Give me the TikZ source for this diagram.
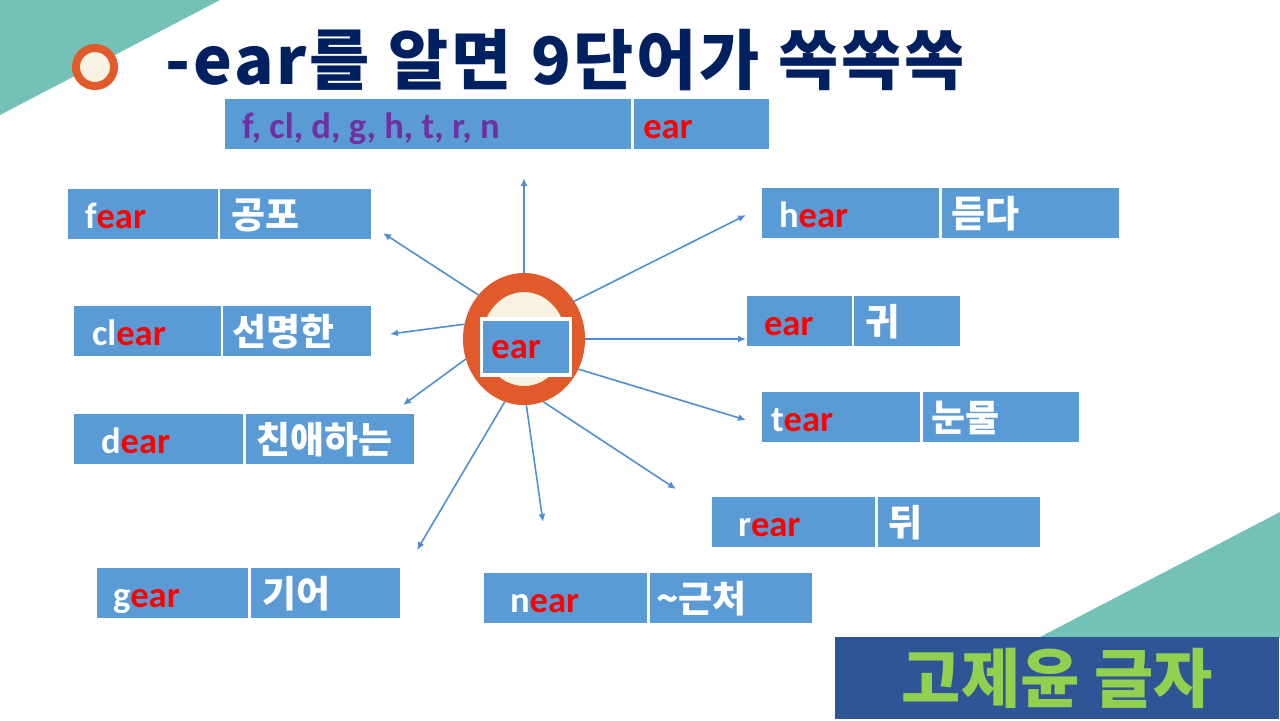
\documentclass[tikz,border=0pt]{standalone}
\usepackage{fontspec}
\setmainfont{Carlito}
\newfontfamily\kr{Noto Sans CJK KR}
\newfontfamily\krwide{Noto Sans CJK KR}[WordSpace=1.1, LetterSpace=4]
\usetikzlibrary{arrows.meta,positioning,shapes.geometric}
\definecolor{boxblue}{HTML}{5B9BD5}
\definecolor{earred}{HTML}{FF0000}
\definecolor{ltrpurple}{HTML}{7030A0}
\definecolor{titlenavy}{HTML}{002060}
\definecolor{slideteal}{HTML}{74C1B8}
\definecolor{ringorange}{HTML}{E05A2B}
\definecolor{ringcream}{HTML}{F8F2E3}
\definecolor{creditblue}{HTML}{2F5597}
\definecolor{creditgreen}{HTML}{92D050}
\definecolor{spokeblue}{HTML}{4F8FCF}
\newcommand{\rd}[1]{\textcolor{earred}{#1}}
\tikzset{
  cell/.style={draw=white, line width=0.8pt, fill=boxblue, text=white, align=left,
    inner ysep=0pt, outer sep=0pt, minimum height=0.52cm, text height=0.40cm, text depth=0.12cm},
  engcell/.style={cell, font=\fontsize{10.4}{12}\selectfont\bfseries},
  korcell/.style={cell, font=\fontsize{10.5}{12}\kr\bfseries},
  spoke/.style={draw=spokeblue, line width=0.45pt, -{Latex[length=0.8mm,width=0.7mm]}},
  ring/.style={ellipse, draw=ringorange, line width=0.19cm, fill=ringcream,
    minimum width=1.03cm, minimum height=1.13cm, inner sep=0pt},
  bigkr/.style={inner sep=0pt}
}
\begin{document}
\begin{tikzpicture}[x=0.01cm, y=-0.01cm]
  \useasboundingbox (0,0) rectangle (1280,720);
  \fill[slideteal] (0,0) -- (220,0) -- (0,115) -- cycle;
  \fill[slideteal] (1038,638) -- (1280,512) -- (1280,638) -- cycle;

  \node[circle, draw=ringorange, line width=0.08cm, fill=ringcream, minimum size=0.38cm,
    inner sep=0pt] (bullet) at (95,67) {};
  \node[bigkr, anchor=base west, text=titlenavy, font=\fontsize{18.6}{22}\krwide\bfseries]
    (title) at (165,84) {-ear를 알면 9단어가 쏙쏙쏙};

  \node[engcell, anchor=north west, inner xsep=0.18cm, text width=3.72cm, text=ltrpurple]
    (lettersE) at (224,98) {\spaceskip=0.226em\relax f, cl, d, g, h, t, r, n};
  \node[engcell, right=0pt of lettersE, inner xsep=0.11cm, text width=1.16cm] (lettersK) {\rd{ear}};

  \node[ring] (hub) at (524,339) {};
  \node[engcell, line width=1pt, inner xsep=0.10cm, text width=0.69cm, minimum height=0.56cm,
    text height=0.39cm, text depth=0.17cm] (hubbox) at (526,347) {\rd{ear}};

  \node[engcell, anchor=north west, inner xsep=0.18cm, text width=1.16cm] (fearE) at (67,188) {f\rd{ear}};
  \node[korcell, right=0pt of fearE, inner xsep=0.12cm, text width=1.29cm] (fearK) {공포};
  \node[engcell, anchor=north west, inner xsep=0.19cm, text width=1.11cm] (clearE) at (73,305) {cl\rd{ear}};
  \node[korcell, right=0pt of clearE, inner xsep=0.10cm, text width=1.30cm] (clearK) {선명한};
  \node[engcell, anchor=north west, inner xsep=0.28cm, text width=1.15cm] (dearE) at (73,413) {d\rd{ear}};
  \node[korcell, right=0pt of dearE, inner xsep=0.12cm, text width=1.47cm] (dearK) {친애하는};
  \node[engcell, anchor=north west, inner xsep=0.17cm, text width=1.19cm] (gearE) at (96,567) {g\rd{ear}};
  \node[korcell, right=0pt of gearE, inner xsep=0.13cm, text width=1.26cm] (gearK) {기어};
  \node[engcell, anchor=north west, inner xsep=0.27cm, text width=1.11cm] (nearE) at (483,572) {n\rd{ear}};
  \node[korcell, right=0pt of nearE, inner xsep=0.08cm, text width=1.49cm] (nearK) {\string~근처};
  \node[engcell, anchor=north west, inner xsep=0.27cm, text width=1.11cm] (rearE) at (711,496) {r\rd{ear}};
  \node[korcell, right=0pt of rearE, inner xsep=0.12cm, text width=1.41cm] (rearK) {뒤};
  \node[engcell, anchor=north west, inner xsep=0.10cm, text width=1.40cm] (tearE) at (761,391) {t\rd{ear}};
  \node[korcell, right=0pt of tearE, inner xsep=0.10cm, text width=1.39cm] (tearK) {눈물};
  \node[engcell, anchor=north west, inner xsep=0.18cm, text width=0.71cm] (earE) at (746,295) {\rd{ear}};
  \node[korcell, right=0pt of earE, inner xsep=0.12cm, text width=0.84cm] (earK) {귀};
  \node[engcell, anchor=north west, inner xsep=0.18cm, text width=1.43cm] (hearE) at (761,187) {h\rd{ear}};
  \node[korcell, right=0pt of hearE, inner xsep=0.11cm, text width=1.58cm] (hearK) {듣다};

  \coordinate (upEnd) at (524,178);
  \coordinate (fearEnd) at (383,233);
  \coordinate (clearEnd) at (390,334);
  \coordinate (dearEnd) at (403,405);
  \coordinate (gearEnd) at (417,550);
  \coordinate (nearEnd) at (543,522);
  \coordinate (rearEnd) at (676,489);
  \coordinate (tearEnd) at (746,420);
  \coordinate (earEnd) at (746,339);
  \coordinate (hearEnd) at (746,215);

  \draw[spoke] (hub.north) -- (upEnd);
  \draw[spoke] (hub.136) -- (fearEnd);
  \draw[spoke] (hub.166) -- (clearEnd);
  \draw[spoke] (hub.199) -- (dearEnd);
  \draw[spoke] (hub.253) -- (gearEnd);
  \draw[spoke] (hub.272) -- (nearEnd);
  \draw[spoke] (hub.287) -- (rearEnd);
  \draw[spoke] (hub.-29) -- (tearEnd);
  \draw[spoke] (hub.east) -- (earEnd);
  \draw[spoke] (hub.37) -- (hearEnd);

  \node[bigkr, fill=creditblue, anchor=south east, minimum width=4.44cm, minimum height=0.82cm,
    text=creditgreen, font=\fontsize{18.3}{22}\kr\bfseries] (credit) at (1280,720) {고제윤 글자};
\end{tikzpicture}
\end{document}
